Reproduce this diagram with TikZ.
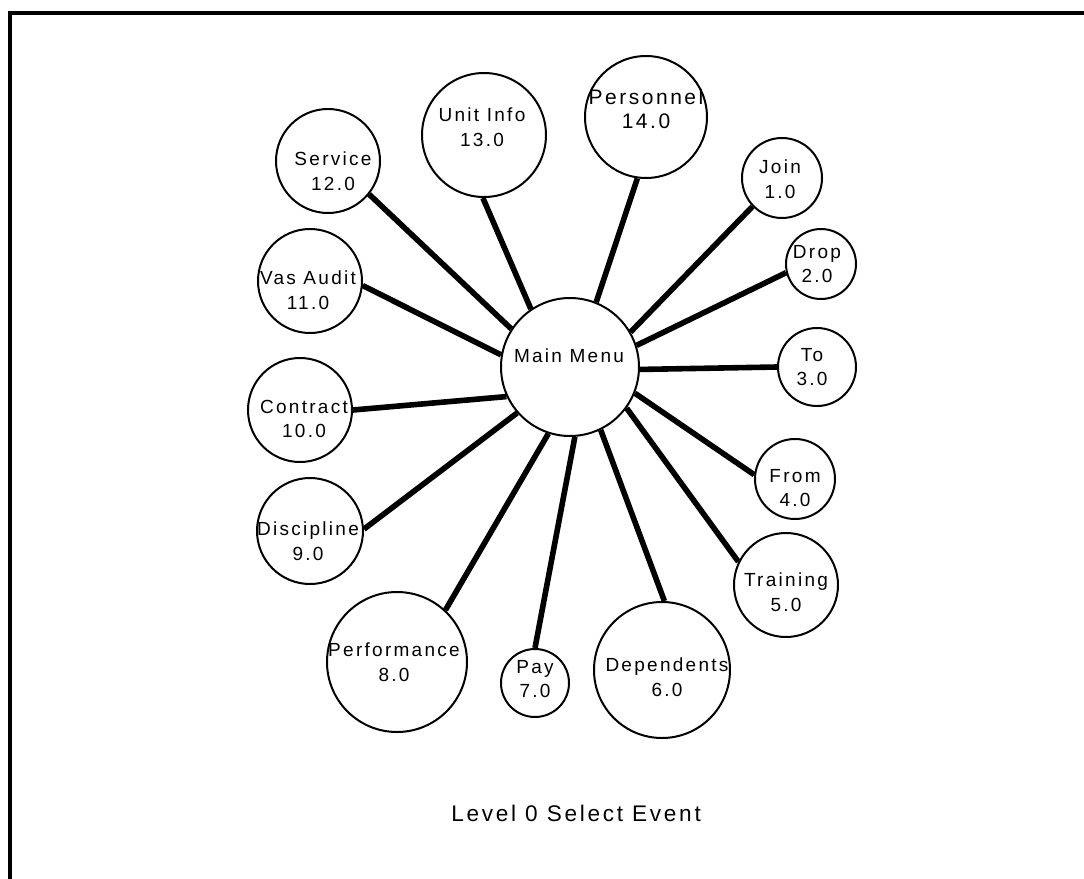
\documentclass[tikz,border=0pt]{standalone}
\usepackage{fontspec}
\setmainfont{Liberation Sans}[LetterSpace=12]
\begin{document}
\begin{tikzpicture}[x=0.5pt,y=-0.5pt,
  bub/.style={circle,draw,line width=1pt,inner sep=0pt},
  lab/.style={align=center,inner sep=0pt,font=\fontsize{9.5}{12.3}\selectfont},
  biglab/.style={align=center,inner sep=0pt,font=\fontsize{10.5}{12.3}\selectfont},
  spoke/.style={line width=2.8pt},
  frame/.style={line width=1.6pt}]
\useasboundingbox (0,0) rectangle (1084,879);
\coordinate (ftr) at (1084,13);
\coordinate (ftl) at (10,13);
\coordinate (fbl) at (10,879);
\draw[frame] (ftr) -- (ftl) -- (fbl);

\node[bub,minimum size=69pt] (main) at (570,367) {};
\node[lab] (tmain) at (569,356) {Main Menu};

\node[bub,minimum size=40pt] (n1) at (782,178) {};
\node[lab] (t1) at (780,179) {Join\\1.0};
\node[bub,minimum size=35pt] (n2) at (821,264) {};
\node[lab] (t2) at (817,264) {Drop\\2.0};
\node[bub,minimum size=39pt] (n3) at (817,367) {};
\node[lab] (t3) at (812,367) {To\\3.0};
\node[bub,minimum size=40pt] (n4) at (795,479) {};
\node[lab] (t4) at (795,488) {From\\4.0};
\node[bub,minimum size=52pt] (n5) at (786,585) {};
\node[lab] (t5) at (786,592) {Training\\5.0};
\node[bub,minimum size=68pt] (n6) at (662,670) {};
\node[lab] (t6) at (667,677) {Dependents\\6.0};
\node[bub,minimum size=34pt] (n7) at (535,683) {};
\node[lab] (t7) at (535,679) {Pay\\7.0};
\node[bub,minimum size=70pt] (n8) at (397,662) {};
\node[lab] (t8) at (394,662) {Performance\\8.0};
\node[bub,minimum size=53pt] (n9) at (310,531) {};
\node[lab] (t9) at (308,541) {Discipline\\9.0};
\node[bub,minimum size=52pt] (n10) at (300,410) {};
\node[lab] (t10) at (304,419) {Contract\\10.0};
\node[bub,minimum size=52pt] (n11) at (310,281) {};
\node[lab] (t11) at (308,290) {Vas Audit\\11.0};
\node[bub,minimum size=52pt] (n12) at (328,161) {};
\node[lab] (t12) at (333,171) {Service\\12.0};
\node[bub,minimum size=62pt] (n13) at (484,135) {};
\node[lab] (t13) at (482,127) {Unit Info\\13.0};
\node[bub,minimum size=61pt] (n14) at (646,117) {};
\node[biglab] (t14) at (646,109) {Personnel\\14.0};

\draw[spoke] (main.68) -- (n14.-98);
\draw[spoke] (main.124) -- (n13.-91);
\draw[spoke] (main.147) -- (n12.-39);
\draw[spoke] (main.170) -- (n11.-5);
\draw[spoke] (main.205) -- (n10.0);
\draw[spoke] (main.221) -- (n9.2);
\draw[spoke] (main.252) -- (n8.47);
\draw[spoke] (main.274) -- (n7.90);
\draw[spoke] (main.296) -- (n6.88);
\draw[spoke] (main.324) -- (n5.154);
\draw[spoke] (main.338) -- (n4.174);
\draw[spoke] (main.358) -- (n3.180);
\draw[spoke] (main.18) -- (n2.194);
\draw[spoke] (main.30) -- (n1.224);

\node[font=\fontsize{11.3}{13}\selectfont,anchor=base west,inner sep=0pt] (title) at (451,821) {Level 0 Select Event};
\end{tikzpicture}
\end{document}
